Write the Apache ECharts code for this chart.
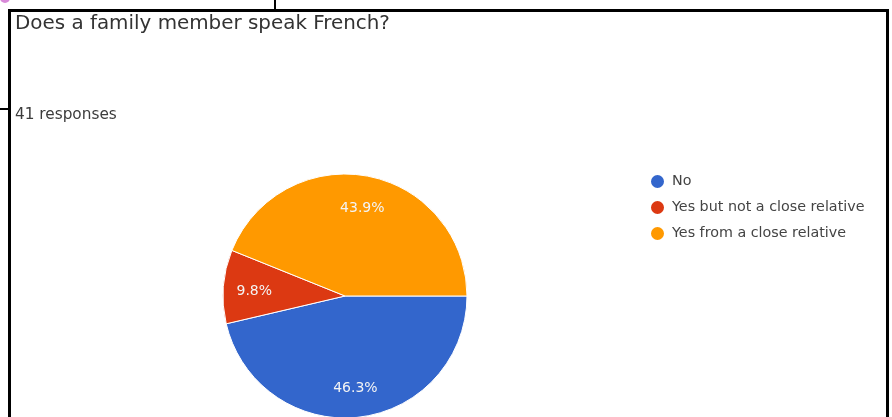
<!DOCTYPE html>
<html>
<head>
<meta charset="utf-8">
<script src="https://cdn.jsdelivr.net/npm/echarts@6/dist/echarts.min.js"></script>
<style>
html,body{margin:0;padding:0;background:#fff;}
#chart{width:892px;height:417px;}
</style>
</head>
<body>
<div id="chart"></div>
<script>
const titleText = 'Does a family member speak French?';
const subtitleText = '41 responses';
const categories = ['No', 'Yes but not a close relative', 'Yes from a close relative'];
const counts = [19, 4, 18];
const colors = ['#3366cc', '#dc3912', '#ff9900'];

const pieData = categories.map((c, i) => ({ name: c, value: counts[i], itemStyle: { color: colors[i] } }));
const total = counts.reduce((a, b) => a + b, 0);
const FONT = 'DejaVu Sans';

const chart = echarts.init(document.getElementById('chart'), null, { renderer: 'canvas' });
chart.setOption({
  animation: false,
  backgroundColor: '#ffffff',
  title: [
    { text: titleText, left: 10, top: 9, textStyle: { fontFamily: FONT, fontSize: 19.9, fontWeight: 'normal', color: '#333333' } },
    { text: subtitleText, left: 10, top: 103, textStyle: { fontFamily: FONT, fontSize: 15.3, fontWeight: 'normal', color: '#3c3c3c' } }
  ],
  legend: {
    orient: 'vertical',
    left: 644,
    top: 168,
    itemWidth: 19,
    itemHeight: 15,
    itemGap: 9,
    icon: 'circle',
    data: categories,
    textStyle: { fontFamily: FONT, fontSize: 14.3, color: '#444444' }
  },
  graphic: [
    { type: 'rect', shape: { x: 8, y: 9, width: 881, height: 3 }, style: { fill: '#000' }, silent: true },
    { type: 'rect', shape: { x: 8, y: 9, width: 3, height: 420 }, style: { fill: '#000' }, silent: true },
    { type: 'rect', shape: { x: 886, y: 9, width: 3, height: 420 }, style: { fill: '#000' }, silent: true },
    { type: 'rect', shape: { x: 0, y: 108, width: 9, height: 2 }, style: { fill: '#000' }, silent: true },
    { type: 'rect', shape: { x: 274, y: 0, width: 2, height: 10 }, style: { fill: '#000' }, silent: true },
    { type: 'circle', shape: { cx: 5, cy: -2, r: 5 }, style: { fill: '#d98ad9' }, silent: true }
  ],
  series: [
    {
      type: 'pie',
      center: [345, 296],
      radius: [0, 122],
      startAngle: 0,
      clockwise: true,
      avoidLabelOverlap: false,
      data: pieData,
      itemStyle: { borderColor: '#ffffff', borderWidth: 1 },
      label: { show: false },
      labelLine: { show: false },
      emphasis: { disabled: true }
    },
    {
      type: 'pie',
      center: [345, 298],
      radius: [54, 122],
      startAngle: 0,
      clockwise: true,
      silent: true,
      avoidLabelOverlap: false,
      data: pieData.map(d => ({ name: d.name, value: d.value, itemStyle: { color: 'rgba(0,0,0,0)' } })),
      itemStyle: { borderWidth: 0 },
      label: {
        show: true,
        position: 'inside',
        formatter: p => (p.value / total * 100).toFixed(1) + '%',
        fontFamily: FONT,
        fontSize: 14,
        color: '#f4f4f4'
      },
      labelLine: { show: false },
      emphasis: { disabled: true }
    }
  ]
});
</script>
</body>
</html>
